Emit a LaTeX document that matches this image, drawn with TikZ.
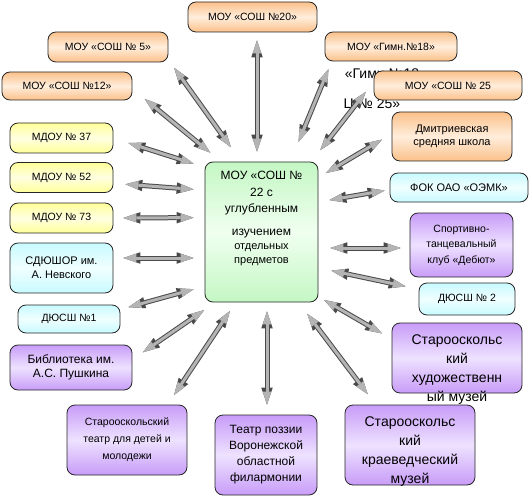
\documentclass[tikz,border=0pt]{standalone}
\usepackage{fontspec}
\setmainfont{Liberation Sans}
\usetikzlibrary{arrows.meta,positioning}
\definecolor{peach}{HTML}{FBC08A}
\definecolor{peachlight}{HTML}{FFEEDC}
\definecolor{lemon}{HTML}{FFFF99}
\definecolor{lemonlight}{HTML}{FFFFE2}
\definecolor{aqua}{HTML}{C8FAFF}
\definecolor{aqualight}{HTML}{F0FFFF}
\definecolor{lilac}{HTML}{C89CF8}
\definecolor{lilaclight}{HTML}{EEE2FF}
\definecolor{mint}{HTML}{C4F7C4}
\definecolor{mintlight}{HTML}{F0FFF0}
\definecolor{arrowfill}{HTML}{B4B4B4}
\definecolor{arrowedge}{HTML}{4A4A4A}

\begin{document}
\begin{tikzpicture}[x=1pt,y=-1pt,
    box/.style={draw=black!85, line width=0.8pt, rounded corners=8pt, align=center,
        inner sep=2pt, font=\fontsize{10.5}{13}\selectfont},
    peachbox/.style={box, top color=peach, bottom color=peach, middle color=peachlight},
    lemonbox/.style={box, top color=lemon, bottom color=lemon, middle color=lemonlight,
        minimum width=103, minimum height=30},
    aquabox/.style={box, top color=aqua, bottom color=aqua, middle color=aqualight},
    lilacbox/.style={box, top color=lilac, bottom color=lilac, middle color=lilaclight},
    bigtext/.style={align=center, inner sep=0pt, font=\fontsize{14}{18.7}\selectfont},
    link/.style={draw=arrowfill, line width=3pt, shorten <=3pt, shorten >=3pt,
        {Triangle[length=13pt,width=8.6pt,line width=0pt]}-{Triangle[length=13pt,width=8.6pt,line width=0pt]},
        preaction={draw=arrowedge, line width=5pt,
        {Triangle[length=17pt,width=11.5pt,line width=0pt]}-{Triangle[length=17pt,width=11.5pt,line width=0pt]}}}
]
\useasboundingbox (0,0) rectangle (532,497);

% leftover text behind the boxes
\node[bigtext] (strayA) at (382,74) {«Гимн.№18};
\node[bigtext] (strayB) at (372,105.5) {Ц № 25»};

% schools
\node[peachbox, minimum width=129, minimum height=30] (s20) at (252.5,17) {МОУ «СОШ №20»};
\node[peachbox, minimum width=120, minimum height=30] (s5) at (108,47) {МОУ «СОШ № 5»};
\node[peachbox, minimum width=132, minimum height=29] (g18) at (391,46.5) {МОУ «Гимн.№18»};
\node[peachbox, minimum width=130, minimum height=28] (s12) at (67,86) {МОУ «СОШ №12»};
\node[peachbox, minimum width=148, minimum height=29] (s25) at (448,85.5) {МОУ «СОШ № 25};
\node[peachbox, minimum width=120, minimum height=49, font=\fontsize{11}{13}\selectfont] (dmitr) at (452,136.5) {Дмитриевская\\средняя школа};

% kindergartens
\node[lemonbox] (m37) at (61.5,138) {МДОУ № 37};
\node[lemonbox] (m52) at (61.5,177.5) {МДОУ № 52};
\node[lemonbox] (m73) at (61.5,218) {МДОУ № 73};

% sport
\node[aquabox, minimum width=103, minimum height=50, font=\fontsize{11}{14}\selectfont] (sdush) at (61.5,268) {СДЮШОР им.\\А. Невского};
\node[aquabox, minimum width=138, minimum height=29, font=\fontsize{11}{13}\selectfont] (fok) at (459,187.5) {ФОК ОАО «ОЭМК»};
\node[aquabox, minimum width=96, minimum height=32] (d2) at (467,299) {ДЮСШ № 2};
\node[aquabox, minimum width=102, minimum height=28] (d1) at (69,319) {ДЮСШ №1};
\node[lilacbox, minimum width=103, minimum height=64, font=\fontsize{10.5}{15.5}\selectfont] (debut) at (461.5,245) {Спортивно-\\танцевальный\\клуб «Дебют»};

% culture
\node[lilacbox, minimum width=122, minimum height=45, font=\fontsize{12}{13.5}\selectfont] (bib) at (71,367.5) {Библиотека им.\\А.С. Пушкина};
\node[lilacbox, minimum width=120, minimum height=70, font=\fontsize{10.5}{17}\selectfont] (tdet) at (127,440) {Старооскольский\\театр для детей и\\молодежи};
\node[lilacbox, minimum width=102, minimum height=80, font=\fontsize{12}{16}\selectfont] (poez) at (266,455) {Театр поззии\\Воронежской\\областной\\филармонии};
\node[lilacbox, minimum width=130, minimum height=70] (hud) at (457,358) {};
\node[bigtext, anchor=north] (hudtext) at (457,335) {Старооскольс\\кий\\художественн\\ый музей};
\node[lilacbox, minimum width=130, minimum height=80] (kraev) at (410,445) {};
\node[bigtext, anchor=north] (kraevtext) at (410,417) {Старооскольс\\кий\\краеведческий\\музей};

% our school
\node[box, top color=mint, bottom color=mint, middle color=mintlight,
    minimum width=113, minimum height=140] (hub) at (261.5,232) {};
\node[align=center, inner sep=0pt, font=\fontsize{12}{16.5}\selectfont, anchor=north] (hubtext) at (261.5,171)
    {МОУ «СОШ №\\22 с\\углубленным\\[6pt]изучением\\[-2pt]{\fontsize{11}{14}\selectfont отдельных}\\[-3pt]{\fontsize{11}{14}\selectfont предметов}};

% links
\draw[link] ([shift={(4.5,5)}]s20.south) -- ([shift={(-4.5,-7)}]hub.north);
\draw[link] ([shift={(4,3)}]s5.south east) -- ([shift={(28,-12)}]hub.north west);
\draw[link] ([shift={(10,11)}]s12.east) -- ([shift={(8,-7)}]hub.north west);
\draw[link] ([shift={(5,5)}]g18.south west) -- ([shift={(-21,-17)}]hub.north east);
\draw[link] ([shift={(-6,4)}]s25.west) -- ([shift={(0,-9)}]hub.north east);
\draw[link] ([shift={(-7,1.5)}]dmitr.west) -- ([shift={(5,13)}]hub.north east);
\draw[link] ([shift={(12,4)}]m37.east) -- ([shift={(-8,3)}]hub.north west);
\draw[link] ([shift={(9,6.5)}]m52.east) -- ([shift={(-8,28)}]hub.north west);
\draw[link] ([shift={(7,0)}]m73.east) -- ([shift={(-8,56)}]hub.north west);
\draw[link] ([shift={(7,-10)}]sdush.east) -- ([shift={(-8,26)}]hub.west);
\draw[link] ([shift={(-2,2.5)}]fok.west) -- ([shift={(8,39)}]hub.north east);
\draw[link] ([shift={(-6,3)}]debut.west) -- ([shift={(9,16)}]hub.east);
\draw[link] ([shift={(-10,-12)}]d2.west) -- ([shift={(10,38)}]hub.east);
\draw[link] ([shift={(-7,-23)}]hud.west) -- ([shift={(3,-4)}]hub.south east);
\draw[link] ([shift={(25,-8)}]kraev.north west) -- ([shift={(-13,9)}]hub.south east);
\draw[link] ([shift={(1,-7)}]poez.north) -- ([shift={(5.5,6)}]hub.south);
\draw[link] ([shift={(-15,-7)}]tdet.north east) -- ([shift={(27,6)}]hub.south west);
\draw[link] ([shift={(8,-13.5)}]bib.east) -- ([shift={(2,6)}]hub.south west);
\draw[link] ([shift={(5,-11)}]d1.east) -- ([shift={(-8,-14)}]hub.south west);
\end{tikzpicture}
\end{document}
